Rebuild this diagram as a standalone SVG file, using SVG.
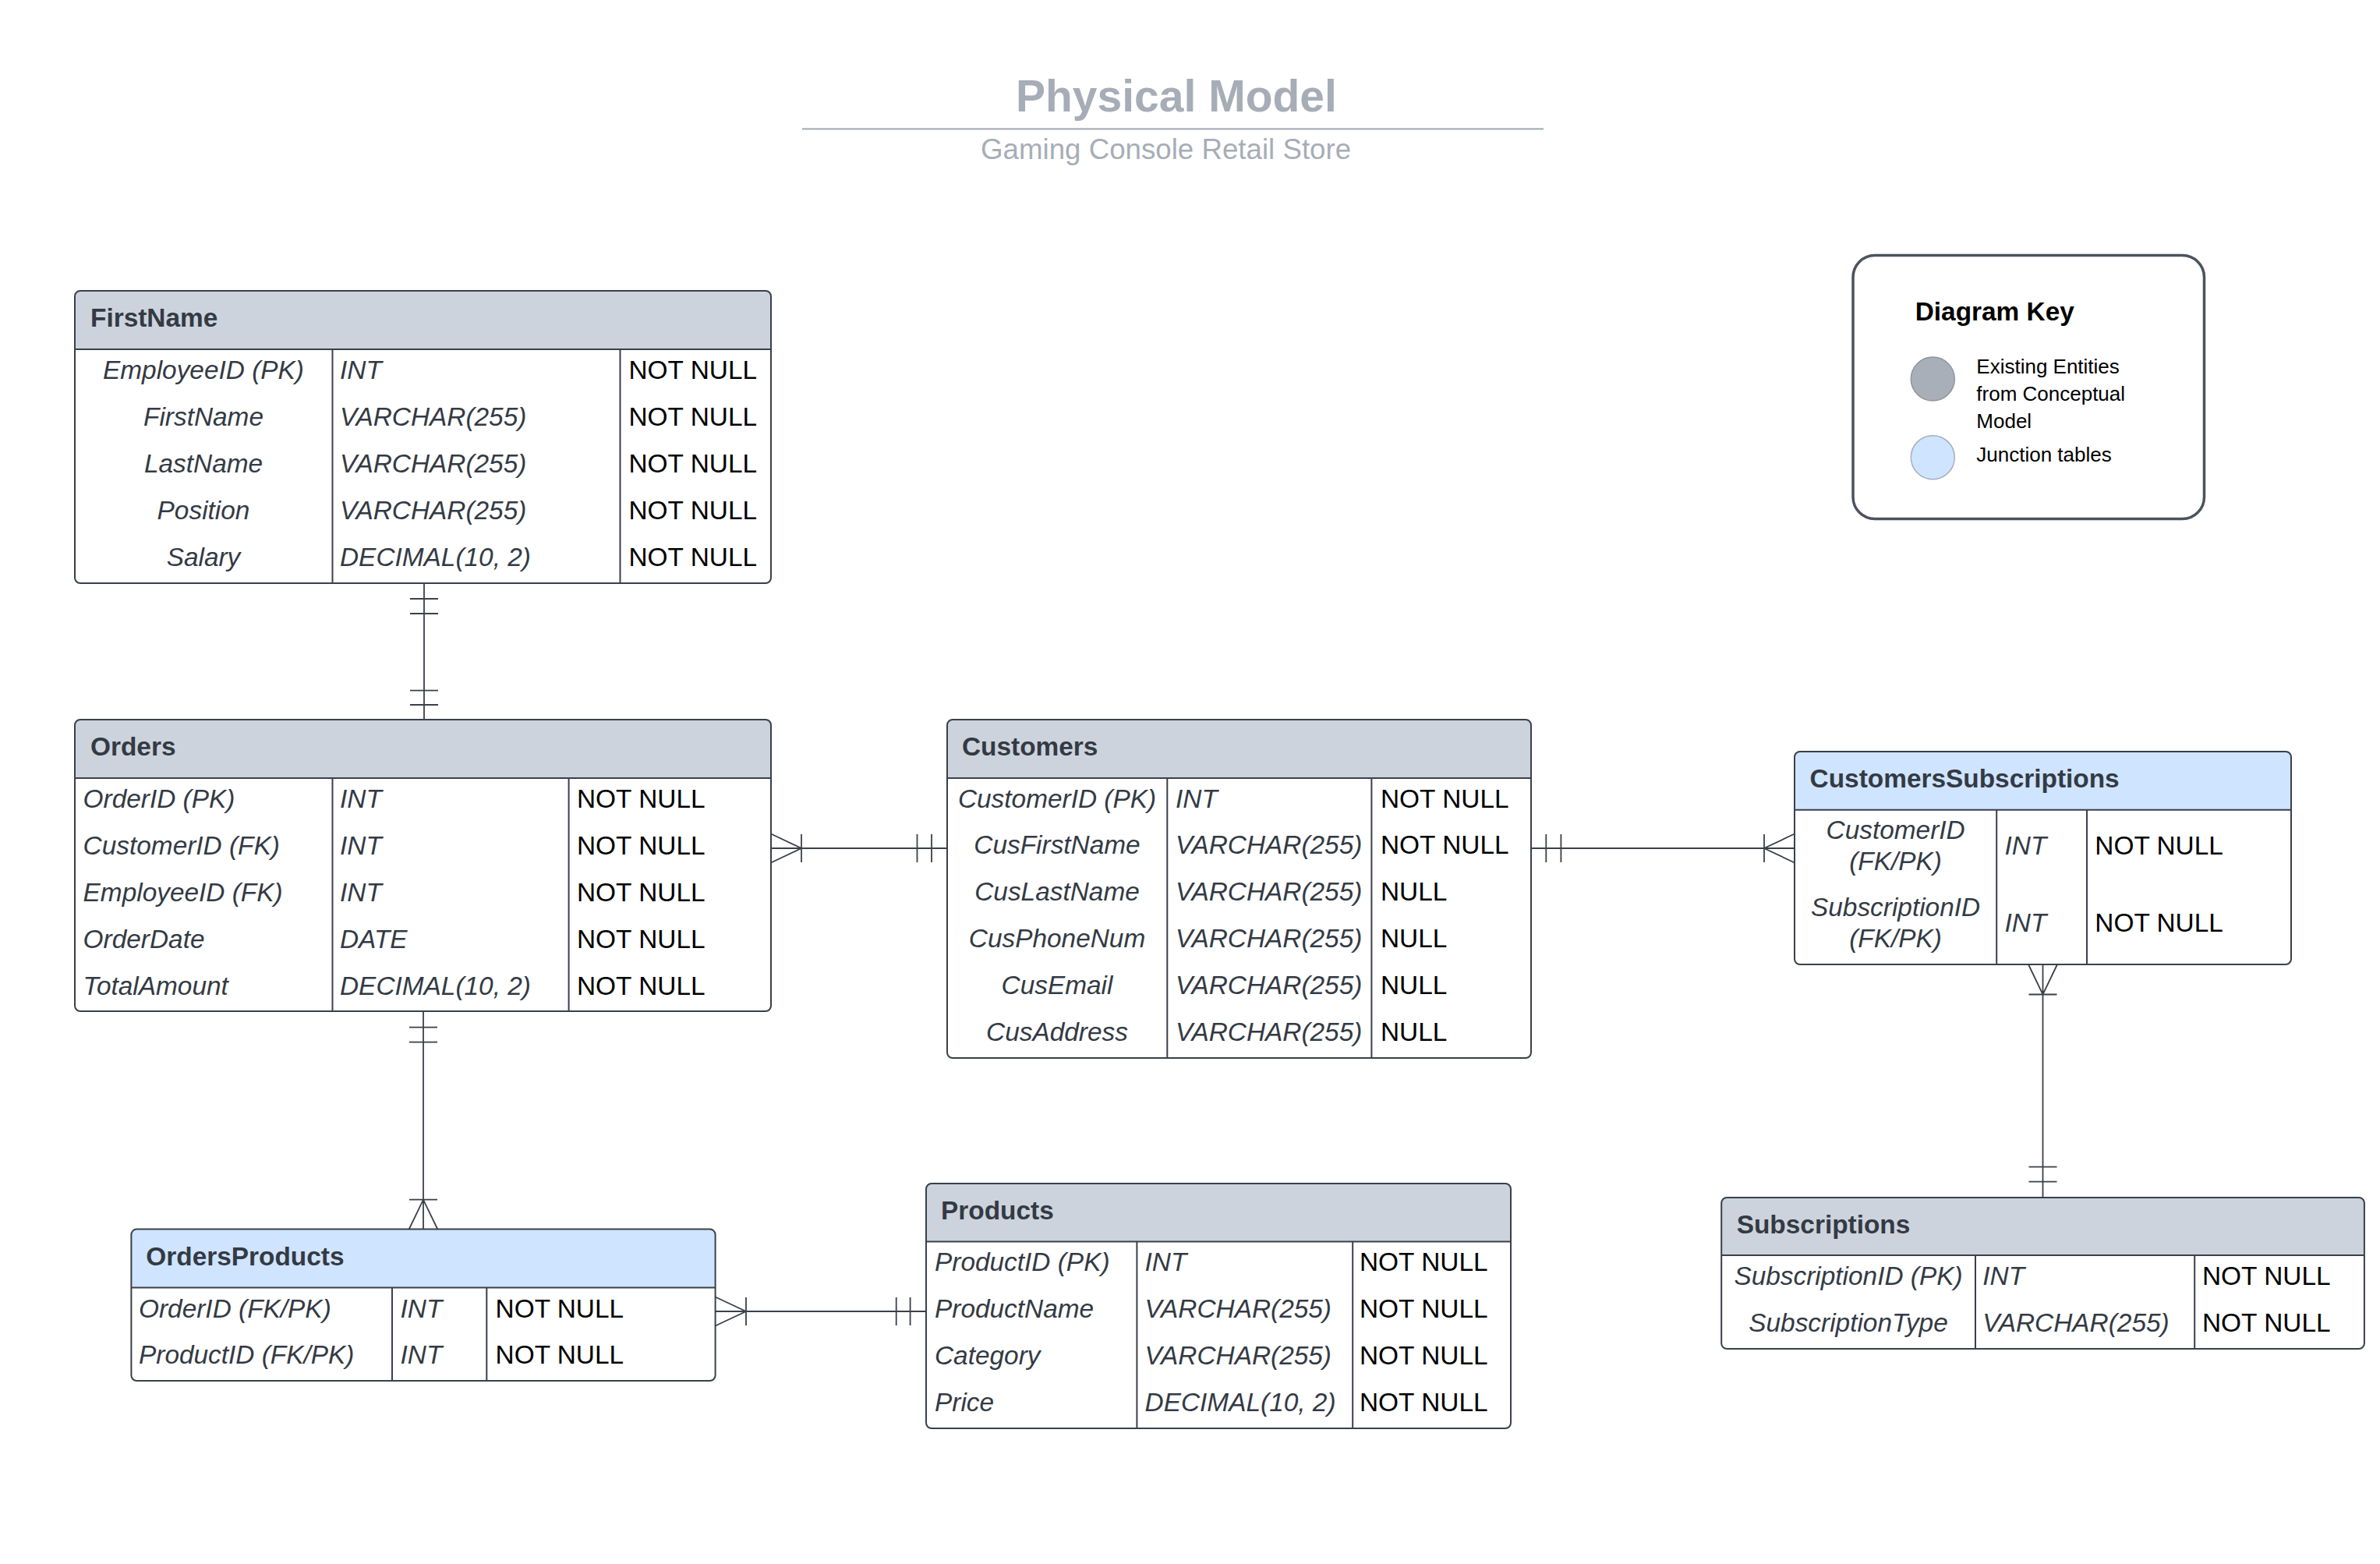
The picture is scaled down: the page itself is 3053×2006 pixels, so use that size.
<svg xmlns="http://www.w3.org/2000/svg" width="3053" height="2006" viewBox="0 0 3053 2006">
<style>
text{font-family:"Liberation Sans",Arial,sans-serif}
.tb{fill:#333a44;font-size:33.4px;font-weight:bold}
.it{fill:#333a44;font-size:33.4px;font-style:italic}
.nn{fill:#000;font-size:33.4px}
.c{text-anchor:middle}
.outline{fill:none;stroke:#3a4049;stroke-width:2}
.body{fill:#fff}
.hg{fill:#cdd3dc}
.hb{fill:#cfe4ff}
.div{stroke:#3a4049;stroke-width:2}
.cn{stroke:#3b4049;stroke-width:1.8;fill:none}
.title{fill:#a7adb7;font-size:57px;font-weight:bold}
.sub{fill:#a7adb7;font-size:36.7px}
.kt{fill:#000;font-size:26px}
</style>
<rect width="3053" height="2006" fill="#fff"/>

<g id="title">
<text class="title" x="1303" y="142.7">Physical Model</text>
<line x1="1029" y1="165.3" x2="1980" y2="165.3" stroke="#a9afb8" stroke-width="2.2"/>
<text class="sub" x="1258" y="204">Gaming Console Retail Store</text>
</g>

<g id="diagram-key">
<rect x="2377" y="327.5" width="450.5" height="338" rx="28" fill="#fff" stroke="#4c535d" stroke-width="3.5"/>
<text x="2456.7" y="411" style="font-size:33.4px;font-weight:bold;fill:#000">Diagram Key</text>
<circle cx="2479.3" cy="486" r="28" fill="#a9afb8" stroke="#8f959d" stroke-width="1.5"/>
<circle cx="2479.3" cy="586.7" r="28" fill="#cfe4ff" stroke="#a3b0c2" stroke-width="1.5"/>
<text class="kt" x="2535.3" y="479.3">Existing Entities</text>
<text class="kt" x="2535.3" y="514">from Conceptual</text>
<text class="kt" x="2535.3" y="548.7">Model</text>
<text class="kt" x="2535.3" y="592">Junction tables</text>
</g>

<g id="table-FirstName">
<rect class="body" x="96" y="373" width="893" height="375" rx="7"/>
<path class="hg" d="M96,448 V380 Q96,373 103,373 H982 Q989,373 989,380 V448 Z"/>
<line class="div" x1="96" y1="448" x2="989" y2="448"/>
<line class="div" x1="426.5" y1="448" x2="426.5" y2="748"/>
<line class="div" x1="795.5" y1="448" x2="795.5" y2="748"/>
<rect class="outline" x="96" y="373" width="893" height="375" rx="7"/>
<text class="tb" x="116" y="419">FirstName</text>
<text class="it c" x="261" y="485.5">EmployeeID (PK)</text>
<text class="it c" x="261" y="545.5">FirstName</text>
<text class="it c" x="261" y="605.5">LastName</text>
<text class="it c" x="261" y="665.5">Position</text>
<text class="it c" x="261" y="725.5">Salary</text>
<text class="it" x="436" y="485.5">INT</text>
<text class="it" x="436" y="545.5">VARCHAR(255)</text>
<text class="it" x="436" y="605.5">VARCHAR(255)</text>
<text class="it" x="436" y="665.5">VARCHAR(255)</text>
<text class="it" x="436" y="725.5">DECIMAL(10, 2)</text>
<text class="nn" x="806.5" y="485.5">NOT NULL</text>
<text class="nn" x="806.5" y="545.5">NOT NULL</text>
<text class="nn" x="806.5" y="605.5">NOT NULL</text>
<text class="nn" x="806.5" y="665.5">NOT NULL</text>
<text class="nn" x="806.5" y="725.5">NOT NULL</text>
</g>

<g id="table-Orders">
<rect class="body" x="96" y="923" width="893" height="374" rx="7"/>
<path class="hg" d="M96,998 V930 Q96,923 103,923 H982 Q989,923 989,930 V998 Z"/>
<line class="div" x1="96" y1="998" x2="989" y2="998"/>
<line class="div" x1="426.5" y1="998" x2="426.5" y2="1297"/>
<line class="div" x1="729.6" y1="998" x2="729.6" y2="1297"/>
<rect class="outline" x="96" y="923" width="893" height="374" rx="7"/>
<text class="tb" x="116" y="969">Orders</text>
<text class="it" x="106.6" y="1035.5">OrderID (PK)</text>
<text class="it" x="106.6" y="1095.5">CustomerID (FK)</text>
<text class="it" x="106.6" y="1155.5">EmployeeID (FK)</text>
<text class="it" x="106.6" y="1215.5">OrderDate</text>
<text class="it" x="106.6" y="1275.5">TotalAmount</text>
<text class="it" x="436" y="1035.5">INT</text>
<text class="it" x="436" y="1095.5">INT</text>
<text class="it" x="436" y="1155.5">INT</text>
<text class="it" x="436" y="1215.5">DATE</text>
<text class="it" x="436" y="1275.5">DECIMAL(10, 2)</text>
<text class="nn" x="740" y="1035.5">NOT NULL</text>
<text class="nn" x="740" y="1095.5">NOT NULL</text>
<text class="nn" x="740" y="1155.5">NOT NULL</text>
<text class="nn" x="740" y="1215.5">NOT NULL</text>
<text class="nn" x="740" y="1275.5">NOT NULL</text>
</g>

<g id="table-Customers">
<rect class="body" x="1215" y="923" width="749" height="434" rx="7"/>
<path class="hg" d="M1215,998 V930 Q1215,923 1222,923 H1957 Q1964,923 1964,930 V998 Z"/>
<line class="div" x1="1215" y1="998" x2="1964" y2="998"/>
<line class="div" x1="1497.3" y1="998" x2="1497.3" y2="1357"/>
<line class="div" x1="1759.4" y1="998" x2="1759.4" y2="1357"/>
<rect class="outline" x="1215" y="923" width="749" height="434" rx="7"/>
<text class="tb" x="1234" y="969">Customers</text>
<text class="it c" x="1356" y="1035.5">CustomerID (PK)</text>
<text class="it c" x="1356" y="1095.3">CusFirstName</text>
<text class="it c" x="1356" y="1155.1">CusLastName</text>
<text class="it c" x="1356" y="1214.9">CusPhoneNum</text>
<text class="it c" x="1356" y="1274.7">CusEmail</text>
<text class="it c" x="1356" y="1334.5">CusAddress</text>
<text class="it" x="1508" y="1035.5">INT</text>
<text class="it" x="1508" y="1095.3">VARCHAR(255)</text>
<text class="it" x="1508" y="1155.1">VARCHAR(255)</text>
<text class="it" x="1508" y="1214.9">VARCHAR(255)</text>
<text class="it" x="1508" y="1274.7">VARCHAR(255)</text>
<text class="it" x="1508" y="1334.5">VARCHAR(255)</text>
<text class="nn" x="1771" y="1035.5">NOT NULL</text>
<text class="nn" x="1771" y="1095.3">NOT NULL</text>
<text class="nn" x="1771" y="1155.1">NULL</text>
<text class="nn" x="1771" y="1214.9">NULL</text>
<text class="nn" x="1771" y="1274.7">NULL</text>
<text class="nn" x="1771" y="1334.5">NULL</text>
</g>

<g id="table-Products">
<rect class="body" x="1188" y="1518" width="750" height="314" rx="7"/>
<path class="hg" d="M1188,1592.5 V1525 Q1188,1518 1195,1518 H1931 Q1938,1518 1938,1525 V1592.5 Z"/>
<line class="div" x1="1188" y1="1592.5" x2="1938" y2="1592.5"/>
<line class="div" x1="1458.4" y1="1592.5" x2="1458.4" y2="1832"/>
<line class="div" x1="1735.2" y1="1592.5" x2="1735.2" y2="1832"/>
<rect class="outline" x="1188" y="1518" width="750" height="314" rx="7"/>
<text class="tb" x="1207" y="1564">Products</text>
<text class="it" x="1199" y="1630">ProductID (PK)</text>
<text class="it" x="1199" y="1689.9">ProductName</text>
<text class="it" x="1199" y="1749.8">Category</text>
<text class="it" x="1199" y="1809.7">Price</text>
<text class="it" x="1468.6" y="1630">INT</text>
<text class="it" x="1468.6" y="1689.9">VARCHAR(255)</text>
<text class="it" x="1468.6" y="1749.8">VARCHAR(255)</text>
<text class="it" x="1468.6" y="1809.7">DECIMAL(10, 2)</text>
<text class="nn" x="1744" y="1630">NOT NULL</text>
<text class="nn" x="1744" y="1689.9">NOT NULL</text>
<text class="nn" x="1744" y="1749.8">NOT NULL</text>
<text class="nn" x="1744" y="1809.7">NOT NULL</text>
</g>

<g id="table-OrdersProducts">
<rect class="body" x="168.4" y="1576.6" width="749.2" height="194.4" rx="7"/>
<path class="hb" d="M168.4,1651.6 V1583.6 Q168.4,1576.6 175.4,1576.6 H910.6 Q917.6,1576.6 917.6,1583.6 V1651.6 Z"/>
<line class="div" x1="168.4" y1="1651.6" x2="917.6" y2="1651.6"/>
<line class="div" x1="503" y1="1651.6" x2="503" y2="1771"/>
<line class="div" x1="624.3" y1="1651.6" x2="624.3" y2="1771"/>
<rect class="outline" x="168.4" y="1576.6" width="749.2" height="194.4" rx="7"/>
<text class="tb" x="187.3" y="1622.6">OrdersProducts</text>
<text class="it" x="178" y="1689.5">OrderID (FK/PK)</text>
<text class="it" x="178" y="1749.2">ProductID (FK/PK)</text>
<text class="it" x="513.5" y="1689.5">INT</text>
<text class="it" x="513.5" y="1749.2">INT</text>
<text class="nn" x="635.6" y="1689.5">NOT NULL</text>
<text class="nn" x="635.6" y="1749.2">NOT NULL</text>
</g>

<g id="table-CustomersSubscriptions">
<rect class="body" x="2302" y="964" width="637" height="273" rx="7"/>
<path class="hb" d="M2302,1038.8 V971 Q2302,964 2309,964 H2932 Q2939,964 2939,971 V1038.8 Z"/>
<line class="div" x1="2302" y1="1038.8" x2="2939" y2="1038.8"/>
<line class="div" x1="2561.2" y1="1038.8" x2="2561.2" y2="1237"/>
<line class="div" x1="2677" y1="1038.8" x2="2677" y2="1237"/>
<rect class="outline" x="2302" y="964" width="637" height="273" rx="7"/>
<text class="tb" x="2321.6" y="1010">CustomersSubscriptions</text>
<text class="it c" x="2431.6" y="1075.6">CustomerID</text>
<text class="it c" x="2431.6" y="1116">(FK/PK)</text>
<text class="it c" x="2431.6" y="1174.7">SubscriptionID</text>
<text class="it c" x="2431.6" y="1215">(FK/PK)</text>
<text class="it" x="2571.5" y="1095.8">INT</text>
<text class="it" x="2571.5" y="1194.9">INT</text>
<text class="nn" x="2687.3" y="1095.8">NOT NULL</text>
<text class="nn" x="2687.3" y="1194.9">NOT NULL</text>
</g>

<g id="table-Subscriptions">
<rect class="body" x="2208.2" y="1536" width="824.7" height="194" rx="7"/>
<path class="hg" d="M2208.2,1610 V1543 Q2208.2,1536 2215.2,1536 H3025.9 Q3032.9,1536 3032.9,1543 V1610 Z"/>
<line class="div" x1="2208.2" y1="1610" x2="3032.9" y2="1610"/>
<line class="div" x1="2534" y1="1610" x2="2534" y2="1730"/>
<line class="div" x1="2815.2" y1="1610" x2="2815.2" y2="1730"/>
<rect class="outline" x="2208.2" y="1536" width="824.7" height="194" rx="7"/>
<text class="tb" x="2227.7" y="1582">Subscriptions</text>
<text class="it c" x="2371" y="1647.5">SubscriptionID (PK)</text>
<text class="it c" x="2371" y="1707.5">SubscriptionType</text>
<text class="it" x="2543.3" y="1647.5">INT</text>
<text class="it" x="2543.3" y="1707.5">VARCHAR(255)</text>
<text class="nn" x="2825" y="1647.5">NOT NULL</text>
<text class="nn" x="2825" y="1707.5">NOT NULL</text>
</g>

<g id="connectors">
<!-- FirstName - Orders -->
<path class="cn" d="M544,748 V923 M526,768 H562 M526,787 H562 M526,885.6 H562 M526,904 H562"/>
<!-- Orders - Customers -->
<path class="cn" d="M989,1088 H1215 M989,1069.5 L1028,1088 L989,1106.5 M1028,1070 V1106 M1176.5,1070 V1106 M1195,1070 V1106"/>
<!-- Customers - CustomersSubscriptions -->
<path class="cn" d="M1964,1088 H2302 M1983.3,1070 V1106 M2002.4,1070 V1106 M2302,1069.5 L2263,1088 L2302,1106.5 M2263,1070 V1106"/>
<!-- Orders - OrdersProducts -->
<path class="cn" d="M543,1297 V1577 M525,1317.7 H561 M525,1336.6 H561 M524.5,1577 L543,1538.7 L561.5,1577 M525,1538.7 H561"/>
<!-- OrdersProducts - Products -->
<path class="cn" d="M917.6,1682 H1188 M917.6,1663.5 L957,1682 L917.6,1700.5 M957,1664 V1700 M1149.7,1664 V1700 M1167.6,1664 V1700"/>
<!-- CustomersSubscriptions - Subscriptions -->
<path class="cn" d="M2620.5,1237 V1536 M2602,1237 L2620.5,1275.5 L2639,1237 M2602.5,1275.5 H2638.5 M2602.5,1496.6 H2638.5 M2602.5,1515.6 H2638.5"/>
</g>
</svg>
